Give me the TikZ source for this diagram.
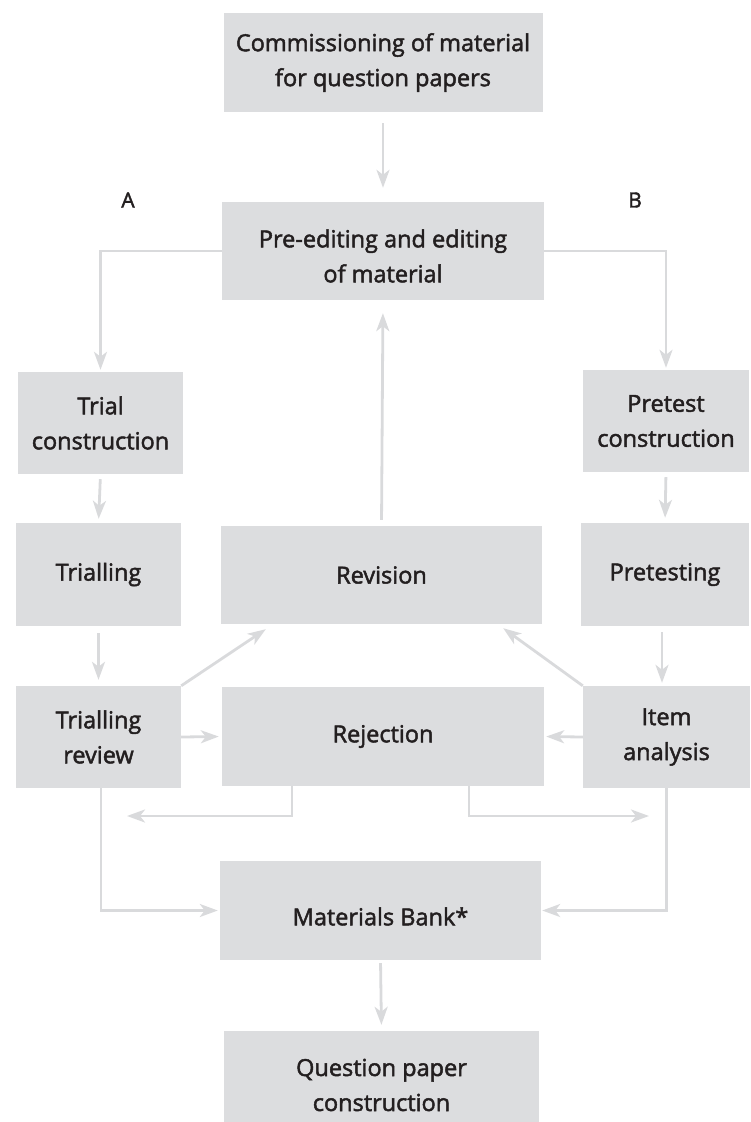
\documentclass[tikz,border=0pt]{standalone}
\usepackage{fontspec}
\setmainfont{Open Sans}[BoldFont=*, BoldFeatures={FakeBold=2}]
\usetikzlibrary{arrows.meta,calc}
\definecolor{boxgray}{HTML}{DCDDDF}
\definecolor{linegray}{HTML}{D9DADC}
\definecolor{textcol}{HTML}{231F20}
\begin{document}
\begin{tikzpicture}[x=1pt,y=-1pt,
  box/.style={fill=boxgray, inner sep=0pt, align=center, text=textcol,
    font=\fontsize{23.5}{35}\selectfont\bfseries},
  lbl/.style={text=textcol, inner sep=0pt, align=center, font=\fontsize{23.5}{35}\selectfont\bfseries},
  letter/.style={text=textcol, inner sep=0pt, font=\fontsize{21}{25}\selectfont\bfseries},
  arr/.style={draw=linegray, line width=2.8pt,
    -{Stealth[length=18pt,width=13pt,inset=5pt]}}]
\clip (0,0) rectangle (751,1122);
\useasboundingbox (0,0) rectangle (751,1122);

% boxes
\node[box, minimum width=319pt, minimum height=99pt] (comm) at (383,62.5) {Commissioning of material\\for question papers};
\node[box, minimum width=322pt, minimum height=98pt,
  label={[lbl,yshift=-5pt]center:Pre-editing and editing\\of material}] (pre) at (383,251) {};
\node[box, minimum width=165pt, minimum height=102pt] (trialc) at (100.5,423) {Trial\\construction};
\node[box, minimum width=166pt, minimum height=102pt] (pretc) at (666,421) {Pretest\\construction};
\node[box, minimum width=165pt, minimum height=103pt] (trialling) at (98.5,574.5) {Trialling};
\node[box, minimum width=321pt, minimum height=98pt] (revision) at (381.5,575) {Revision};
\node[box, minimum width=168pt, minimum height=103pt] (pretesting) at (665,574.5) {Pretesting};
\node[box, minimum width=165pt, minimum height=102pt] (review) at (98.5,737) {Trialling\\review};
\node[box, minimum width=322pt, minimum height=99pt] (rejection) at (383,736.5) {Rejection};
\node[box, minimum width=167pt, minimum height=102pt] (item) at (666.5,737) {Item\\analysis};
\node[box, minimum width=321pt, minimum height=99pt,
  label={[lbl,yshift=-6pt]center:Materials Bank*}] (bank) at (380.5,910.5) {};
\node[box, minimum width=315pt, minimum height=108pt] (qp) at (381.5,1085) {Question paper\\construction};

% letters
\node[letter] (la) at (128,200) {A};
\node[letter] (lb) at (635,200) {B};

% free ends
\coordinate (rl) at (127,816);
\coordinate (rr) at (649,816);
\coordinate (revl) at ($(revision.south west)+(45,5)$);
\coordinate (revr) at ($(revision.south east)+(-39,4)$);

% connectors
\draw[arr, shorten <=11pt, shorten >=14pt] (comm.south) -- (pre.north);
\draw[arr, shorten >=2pt] (pre.west) -| (trialc.north);
\draw[arr, shorten >=2pt] (pre.east) -| (pretc.north);
\draw[arr, shorten <=5pt, shorten >=4pt] (trialc.south) -- (trialling.north);
\draw[arr, shorten <=5pt, shorten >=5pt] (pretc.south) -- (pretesting.north);
\draw[arr, shorten <=6pt, shorten >=13pt] (revision.north) -- (pre.south);
\draw[arr, shorten <=7pt, shorten >=6pt] (trialling.south) -- (review.north);
\draw[arr, shorten <=6pt, shorten >=3pt] ([xshift=-3pt]pretesting.south) -- ([xshift=-4.5pt]item.north);
\draw[arr] (review.north east) -- (revl);
\draw[arr] (item.north west) -- (revr);
\draw[arr, shorten >=3pt] (review.east) -- (rejection.west);
\draw[arr, shorten >=2pt] (item.west) -- (rejection.east);
\draw[arr] ([xshift=-91pt]rejection.south) |- (rl);
\draw[arr] ([xshift=86pt]rejection.south) |- (rr);
\draw[arr, shorten >=2pt] ([xshift=2.5pt]review.south) |- (bank.west);
\draw[arr, shorten >=1pt] (item.south) |- (bank.east);
\draw[arr, shorten <=3pt, shorten >=6pt] (bank.south) -- (qp.north);
\end{tikzpicture}
\end{document}
